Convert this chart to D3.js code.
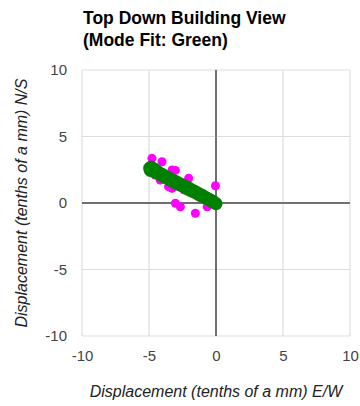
<!DOCTYPE html>
<html>
<head>
<meta charset="utf-8">
<script src="https://cdn.jsdelivr.net/npm/d3@7"></script>
<style>
  html, body { margin: 0; padding: 0; background: #fff; }
  svg { display: block; font-family: "Liberation Sans", Arial, sans-serif; }
</style>
</head>
<body>
<svg id="chart" width="360" height="406"></svg>
<script>
const titleLines = ["Top Down Building View", "(Mode Fit: Green)"];
const xTitle = "Displacement (tenths of a mm) E/W";
const yTitle = "Displacement (tenths of a mm) N/S";
const tickValues = [-10, -5, 0, 5, 10];
const domain = [-10, 10];

// Measured displacement points (magenta)
const measuredX = [-4.78, -4.03, -3.28, -3.03, -2.04, -4.16, -3.54, -3.28, -3.03, -2.66, -1.54, -0.04, -0.66, -0.28, -4.53, -2.4, -1.2];
const measuredY = [3.36, 3.10, 2.48, 2.45, 1.86, 1.73, 1.23, 1.10, -0.02, -0.28, -0.77, 1.30, -0.28, 0.23, 2.10, 1.0, 0.4];

// Mode fit points (green)
const fitX = [-4.95, -4.9, -4.85, -4.8, -4.7, -4.6, -4.5, -4.4, -4.3, -4.2, -4.1, -4.0, -3.9, -3.8, -3.7, -3.6, -3.5, -3.4, -3.3, -3.2, -3.1, -3.0, -2.9, -2.8, -2.7, -2.6, -2.5, -2.4, -2.3, -2.2, -2.1, -2.0, -1.9, -1.8, -1.7, -1.6, -1.5, -1.4, -1.3, -1.2, -1.1, -1.0, -0.9, -0.8, -0.7, -0.6, -0.5, -0.4, -0.3, -0.2, -0.1, 0.0];
const fitY = [2.62, 2.45, 2.70, 2.50, 2.40, 2.55, 2.30, 2.38, 2.20, 2.25, 2.10, 2.15, 2.00, 1.98, 1.88, 1.95, 1.78, 1.80, 1.66, 1.70, 1.55, 1.62, 1.45, 1.50, 1.36, 1.40, 1.28, 1.30, 1.18, 1.20, 1.05, 1.10, 0.95, 0.98, 0.86, 0.88, 0.75, 0.78, 0.65, 0.66, 0.55, 0.56, 0.45, 0.44, 0.35, 0.32, 0.24, 0.22, 0.12, 0.10, 0.02, -0.05];

const svg = d3.select("#chart");
const L = 82, R = 350, T = 70, B = 336;
const x = d3.scaleLinear().domain(domain).range([L, R]);
const y = d3.scaleLinear().domain(domain).range([B, T]);

// grid
const grid = svg.append("g");
tickValues.forEach(v => {
  grid.append("line").attr("x1", x(v)).attr("x2", x(v)).attr("y1", T).attr("y2", B)
    .attr("stroke", v === 0 ? "#666" : "#ddd").attr("stroke-width", v === 0 ? 1.5 : 1.2);
  grid.append("line").attr("y1", y(v)).attr("y2", y(v)).attr("x1", L).attr("x2", R)
    .attr("stroke", v === 0 ? "#666" : "#ddd").attr("stroke-width", v === 0 ? 1.5 : 1.2);
});
// redraw zero lines on top of grid
grid.append("line").attr("x1", x(0)).attr("x2", x(0)).attr("y1", T).attr("y2", B).attr("stroke", "#666").attr("stroke-width", 1.5);
grid.append("line").attr("y1", y(0)).attr("y2", y(0)).attr("x1", L).attr("x2", R).attr("stroke", "#666").attr("stroke-width", 1.5);

// axes labels via d3 axes
const xAxis = svg.append("g").attr("transform", `translate(0,${B})`)
  .call(d3.axisBottom(x).tickValues(tickValues).tickSize(0).tickPadding(14).tickFormat(d3.format("d")));
const yAxis = svg.append("g").attr("transform", `translate(${L},0)`)
  .call(d3.axisLeft(y).tickValues(tickValues).tickSize(0).tickPadding(15).tickFormat(d3.format("d")));
[xAxis, yAxis].forEach(a => {
  a.select(".domain").remove();
  a.selectAll("text").attr("font-size", 15).attr("fill", "#444")
    .attr("font-family", '"Liberation Sans", Arial, sans-serif');
});
xAxis.selectAll("text").text(d => d < 0 ? "-" + Math.abs(d) : d);
yAxis.selectAll("text").text(d => d < 0 ? "-" + Math.abs(d) : d);

// points
const measured = measuredX.map((v, i) => [v, measuredY[i]]);
const fit = fitX.map((v, i) => [v, fitY[i]]);
svg.append("g").selectAll("circle").data(measured).join("circle")
  .attr("cx", d => x(d[0])).attr("cy", d => y(d[1])).attr("r", 4.5).attr("fill", "#f0f");
svg.append("g").selectAll("circle").data(fit).join("circle")
  .attr("cx", d => x(d[0])).attr("cy", d => y(d[1])).attr("r", 6.5).attr("fill", "#008000");

// title
const title = svg.append("text").attr("x", 83).attr("y", 24)
  .attr("font-size", 17.5).attr("font-weight", "bold").attr("fill", "#000");
titleLines.forEach((t, i) => title.append("tspan").attr("x", 83).attr("dy", i === 0 ? 0 : 22).text(t));

// axis titles
svg.append("text").attr("x", (L + R) / 2).attr("y", 397).attr("text-anchor", "middle")
  .attr("font-size", 16).attr("font-style", "italic").attr("fill", "#222").text(xTitle);
svg.append("text").attr("transform", `translate(27,${(T + B) / 2}) rotate(-90)`).attr("text-anchor", "middle")
  .attr("font-size", 16).attr("font-style", "italic").attr("fill", "#222").text(yTitle);
</script>
</body>
</html>
